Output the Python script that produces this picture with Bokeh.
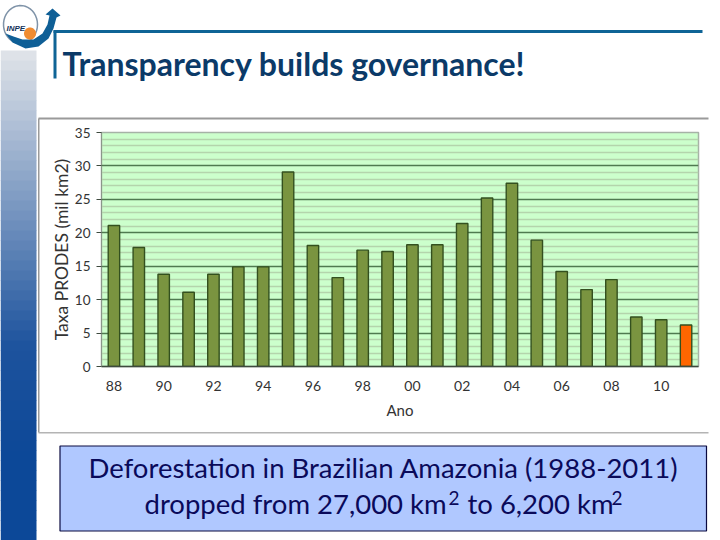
import numpy as np
from bokeh.plotting import figure
from bokeh.layouts import column
from bokeh.core.properties import value
from bokeh.models import ColumnDataSource, FixedTicker, Range1d
from bokeh.embed import file_html
from bokeh.resources import INLINE

years = ["88", "89", "90", "91", "92", "93", "94", "95", "96", "97", "98", "99",
         "00", "01", "02", "03", "04", "05", "06", "07", "08", "09", "10", "11"]
rates = [21.1, 17.8, 13.8, 11.1, 13.8, 14.9, 14.9, 29.1, 18.1, 13.3, 17.4, 17.2,
         18.2, 18.2, 21.4, 25.2, 27.4, 18.9, 14.2, 11.5, 13.0, 7.4, 7.0, 6.2]
bar_colors = ["#7A9440"] * 23 + ["#FF6600"]
tick_labels = years[::2]
y_ticks = [0, 5, 10, 15, 20, 25, 30, 35]

W, H = 720, 540

# ---- slide background (pixel space, top-left origin) ----
bg = figure(width=W, height=H, output_backend="svg", toolbar_location=None,
            x_range=Range1d(0, W), y_range=Range1d(H, 0),
            x_axis_location=None, y_axis_location=None, min_border=0,
            background_fill_color="white", border_fill_color="white")
bg.frame_align = False
bg.outline_line_color = None
bg.grid.visible = False


def rect(l, t, r, b, fill, line=None, lw=0):
    bg.quad(left=[l], right=[r], top=[t], bottom=[b], fill_color=fill,
            line_color=line, line_width=lw)


def poly(pts, fill=None, line=None, lw=1):
    bg.patch([float(a) for a, _ in pts], [float(b) for _, b in pts],
             fill_color=fill, fill_alpha=1.0 if fill else 0.0,
             line_color=line, line_width=lw)


def text(x, y, s, size, color, font="Lato", style="normal", align="left"):
    bg.text(x=[x], y=[y], text=[s], text_font=value(font), text_font_size=f"{size}px",
            text_font_style=style, text_color=color, text_align=align,
            text_baseline="middle")


top_c = np.array([222, 226, 232])
mid_c = np.array([30, 84, 158])
bot_c = np.array([12, 72, 152])
for y0 in np.arange(50, 540, 10):
    t = (y0 - 50) / 290
    c = top_c + (mid_c - top_c) * t if t < 1 else mid_c + (bot_c - mid_c) * min((t - 1) / 0.4, 1)
    rect(0, float(y0), 36, float(min(y0 + 10.5, 540)), "#%02x%02x%02x" % tuple(int(v) for v in c))

rect(53, 29.5, 702, 32.5, "#0F6496")
rect(53, 30, 56, 78, "#0F6496")
text(62, 63, "Transparency builds governance!", 32, "#0B3A68", style="bold")

rect(38, 117, 708, 119, "#9A9A9A")
rect(37.5, 118, 39, 432, "#9A9A9A")
rect(38, 431.5, 708, 433, "#B4B4B4")

th = np.linspace(0, 2 * np.pi, 40)
poly(list(zip(20 + 17 * np.cos(th), 24 + 19 * np.sin(th))), line="#7F93A8", lw=1.5)
poly([(5, 33), (12, 42), (25, 48), (38, 46), (48, 38), (53, 28), (56, 17), (60, 15),
      (52, 8), (45, 14), (49, 15), (47, 24), (42, 33), (33, 39), (22, 39), (13, 36)],
     fill="#0F5F96")
poly(list(zip(29.5 + 6 * np.cos(th), 33 + 6 * np.sin(th))), fill="#F08C32")
text(6, 28, "INPE", 8, "#12325A", font="Liberation Sans", style="bold italic")

rect(59.5, 445.5, 706, 530.5, "#B0C8FF", line="#0A0A40", lw=1.2)
NAVY = "#0A0A5A"
text(383, 467, "Deforestation in Brazilian Amazonia (1988-2011)", 27.5, NAVY, align="center")
text(144, 503, "dropped from 27,000 km", 27.5, NAVY)
text(448, 497, "2", 19, NAVY)
text(467, 503, "to 6,200 km", 27.5, NAVY)
text(611, 497, "2", 19, NAVY)

# ---- chart, laid over the background ----
p = figure(width=W, height=H, output_backend="svg", toolbar_location=None,
           x_range=Range1d(-0.5, 23.5), y_range=Range1d(0, 35),
           min_border_left=101, min_border_right=22, min_border_top=132, min_border_bottom=174,
           background_fill_color="#CCFFCC", border_fill_alpha=0.0,
           margin=(-H, 0, 0, 0))
p.frame_align = False
p.outline_line_color = "#A6B2A6"
p.outline_line_width = 1.5

src = ColumnDataSource(dict(x=list(range(len(years))), rate=rates, color=bar_colors))
p.vbar(x="x", top="rate", width=0.46, bottom=0, source=src, fill_color="color",
       line_color="#33501F", line_width=1.4)

p.xgrid.visible = False
p.ygrid.ticker = FixedTicker(ticks=y_ticks, minor_ticks=[float(i) for i in range(36) if i % 5])
p.ygrid.grid_line_color = "#4F7A50"
p.ygrid.grid_line_width = 1.4
p.ygrid.minor_grid_line_color = "#B4D4AC"
p.ygrid.minor_grid_line_width = 1.4

xa = p.xaxis[0]
xa.ticker = FixedTicker(ticks=list(range(0, len(years), 2)))
xa.major_label_overrides = {i * 2: t for i, t in enumerate(tick_labels)}
xa.major_tick_line_color = None
xa.minor_tick_line_color = None
xa.axis_line_color = "#3E4A3E"
xa.axis_line_width = 1.4
xa.major_label_standoff = 8
xa.major_label_text_font = "Lato"
xa.major_label_text_font_size = "14px"
xa.major_label_text_color = "#333333"
xa.axis_label = "Ano"
xa.axis_label_standoff = 7
xa.axis_label_text_font = "Lato"
xa.axis_label_text_font_style = "normal"
xa.axis_label_text_font_size = "15px"
xa.axis_label_text_color = "#333333"

ya = p.yaxis[0]
ya.ticker = FixedTicker(ticks=y_ticks)
ya.major_tick_out = 5
ya.major_tick_in = 0
ya.major_tick_line_color = "#3E4A3E"
ya.minor_tick_line_color = None
ya.axis_line_color = "#8A968A"
ya.major_label_standoff = 6
ya.major_label_text_font = "Lato"
ya.major_label_text_font_size = "13.5px"
ya.major_label_text_color = "#333333"
ya.axis_label = "Taxa PRODES (mil km2)"
ya.axis_label_standoff = 0
ya.axis_label_text_font = "Lato"
ya.axis_label_text_font_style = "normal"
ya.axis_label_text_font_size = "17.5px"
ya.axis_label_text_color = "#333333"

open("out.html", "w").write(file_html(column(bg, p, spacing=0), INLINE))
